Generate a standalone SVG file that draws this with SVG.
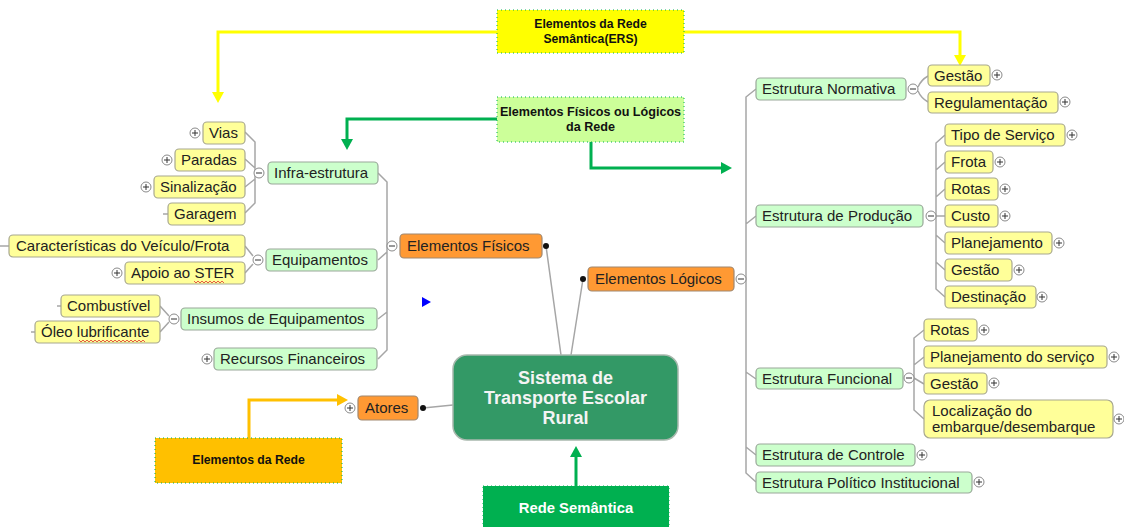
<svg xmlns="http://www.w3.org/2000/svg" width="1124" height="527" viewBox="0 0 1124 527">
<style>
text{font-family:"Liberation Sans",Arial,sans-serif}
.t{font-size:15px;fill:#222}
.y{fill:#FFFF99;stroke:#A8A890;stroke-width:1.2}
.g{fill:#CCFFCC;stroke:#99A899;stroke-width:1.2}
.o{fill:#FF9933;stroke:#A08870;stroke-width:1.2}
.c{fill:none;stroke:#A6A6A6;stroke-width:1.5}
.ic{fill:#fff;stroke:#8a8a8a;stroke-width:1}
.icl{stroke:#333;stroke-width:1}
.lab{font-size:12.2px;font-weight:bold;fill:#111;text-anchor:middle}
.dot{fill:#111}
.sq{fill:none;stroke:#e03030;stroke-width:0.8}
</style>
<defs>
<marker id="ay" markerUnits="userSpaceOnUse" markerWidth="12" markerHeight="12" refX="5" refY="6" orient="auto"><path d="M0,0 L11,6 L0,12 z" fill="#FFFF00"/></marker>
<marker id="ag" markerUnits="userSpaceOnUse" markerWidth="12" markerHeight="12" refX="5" refY="6" orient="auto"><path d="M0,0 L11,6 L0,12 z" fill="#00B050"/></marker>
<marker id="ao" markerUnits="userSpaceOnUse" markerWidth="12" markerHeight="12" refX="5" refY="6" orient="auto"><path d="M0,0 L11,6 L0,12 z" fill="#FFC000"/></marker>
<g id="plus"><circle r="5" class="ic"/><path d="M-3,0 H3 M0,-3 V3" class="icl"/></g>
<g id="minus"><circle r="5" class="ic"/><path d="M-3,0 H3" class="icl"/></g>
</defs>
<rect width="1124" height="527" fill="#fff"/>

<g id="connectors">
<path class="c" d="M546,246 L561,355 M583,279 L571,355 M423,408 L453,405"/>
<path class="c" d="M378,173 L387,182 L387,350 L378,359 M378,260 L387,252 M378,319 L387,312"/>
<path class="c" d="M245,132 L255,142 L255,203 L245,213 M245,159 L255,168 M245,187 L255,179 M163,214 H168"/>
<path class="c" d="M245,246 L253,256 M245,273 L253,264 M0,246 H9"/>
<path class="c" d="M160,306 L169,316 M160,332 L169,322 M57,306 H61 M31,332 H35"/>
<path class="c" d="M756,89 L746,97 L746,473 L756,482 M746,224 L756,216 M746,372 L756,379 M746,447 L756,455"/>
<path class="c" d="M918,87 Q921,80 928,76 M918,91 Q921,98 928,102"/>
<path class="c" d="M945,135 L936,143 L936,289 L945,297 M936,170 L945,162 M936,197 L945,189 M936,216 H945 M936,235 L945,243 M936,262 L945,270"/>
<path class="c" d="M924,330 L914,338 L914,410 L924,419 M914,365 L924,357 M914,378 L924,384"/>
<circle class="dot" cx="546" cy="246" r="3"/>
<circle class="dot" cx="583" cy="279" r="3"/>
<circle class="dot" cx="423" cy="408" r="3"/>
<path d="M497,32 H218 V97" fill="none" stroke="#FFFF00" stroke-width="3" marker-end="url(#ay)"/>
<path d="M684,32 H960 V60" fill="none" stroke="#FFFF00" stroke-width="3" marker-end="url(#ay)"/>
<path d="M497,119 H347 V144" fill="none" stroke="#00B050" stroke-width="3" marker-end="url(#ag)"/>
<path d="M591,142 V168 H726" fill="none" stroke="#00B050" stroke-width="3" marker-end="url(#ag)"/>
<path d="M249,438 V400 H342" fill="none" stroke="#FFC000" stroke-width="3" marker-end="url(#ao)"/>
<path d="M576,486 V452" fill="none" stroke="#00B050" stroke-width="3" marker-end="url(#ag)"/>
</g>

<polygon points="422,297 431,302 422,307" fill="#0000FF"/>

<g id="ers"><rect x="497" y="10" width="187" height="43" fill="#FFFF00" stroke="#00B050" stroke-dasharray="1,3"/><text class="lab" x="590.5" y="28">Elementos da Rede</text><text class="lab" x="590.5" y="43">Semântica(ERS)</text></g>
<g id="efl"><rect x="497" y="97" width="187" height="45" fill="#CCFF99" stroke="#00B050" stroke-dasharray="1,3"/><text class="lab" x="590.5" y="116" style="font-size:12.6px">Elementos Físicos ou Lógicos</text><text class="lab" x="590.5" y="131" style="font-size:12.6px">da Rede</text></g>
<g id="erede"><rect x="155" y="438" width="187" height="45" fill="#FFC000" stroke="#00B050" stroke-dasharray="1,3"/><text class="lab" x="248.5" y="464">Elementos da Rede</text></g>
<g id="rsem"><rect x="483" y="486" width="186" height="45" fill="#00B050" stroke="#00B050" stroke-dasharray="1,3"/><text class="lab" x="576" y="513" style="fill:#fff;font-size:14.8px">Rede Semântica</text></g>

<g id="central"><rect x="453" y="355" width="225" height="85" rx="14" fill="#339966" stroke="#a8b8ad" stroke-width="1.5"/>
<text x="565.5" y="384" text-anchor="middle" font-size="18" font-weight="bold" fill="#f4f4f4">Sistema de</text>
<text x="565.5" y="404" text-anchor="middle" font-size="18" font-weight="bold" fill="#f4f4f4">Transporte Escolar</text>
<text x="565.5" y="424" text-anchor="middle" font-size="18" font-weight="bold" fill="#f4f4f4">Rural</text></g>

<g id="fisicos"><rect class="o" x="400" y="234" width="142" height="24" rx="4"/><text class="t" x="407" y="251">Elementos Físicos</text><use href="#minus" x="392" y="246"/></g>
<g id="logicos"><rect class="o" x="588" y="267" width="146" height="24" rx="4"/><text class="t" x="595" y="284">Elementos Lógicos</text><use href="#minus" x="741" y="279"/></g>
<g id="atores"><rect class="o" x="358" y="396" width="60" height="24" rx="4"/><text class="t" x="365" y="413">Atores</text><use href="#plus" x="350" y="408"/></g>

<g id="vias"><rect class="y" x="203" y="122" width="42" height="22" rx="4"/><text class="t" x="209" y="138">Vias</text><use href="#plus" x="195" y="133"/></g>
<g id="paradas"><rect class="y" x="175" y="149" width="70" height="22" rx="4"/><text class="t" x="181" y="165">Paradas</text><use href="#plus" x="167" y="160"/></g>
<g id="sinalizacao"><rect class="y" x="154" y="176" width="91" height="22" rx="4"/><text class="t" x="160" y="192">Sinalização</text><use href="#plus" x="146" y="187"/></g>
<g id="garagem"><rect class="y" x="168" y="203" width="77" height="22" rx="4"/><text class="t" x="174" y="219">Garagem</text></g>
<g id="infra"><rect class="g" x="268" y="162" width="110" height="22" rx="4"/><text class="t" x="274" y="178">Infra-estrutura</text><use href="#minus" x="259" y="173"/></g>
<g id="caract"><rect class="y" x="9" y="235" width="236" height="22" rx="4"/><text class="t" x="16" y="251">Características do Veículo/Frota</text></g>
<g id="apoio"><rect class="y" x="125" y="262" width="120" height="22" rx="4"/><text class="t" x="131" y="278">Apoio ao STER</text><path class="sq" d="M194,281 l2,2 l2,-2 l2,2 l2,-2 l2,2 l2,-2 l2,2 l2,-2 l2,2 l2,-2 l2,2 l2,-2 l2,2 l2,-2 l2,2"/><use href="#plus" x="117" y="273"/></g>
<g id="equip"><rect class="g" x="266" y="249" width="111" height="22" rx="4"/><text class="t" x="272" y="265">Equipamentos</text><use href="#minus" x="258" y="260"/></g>
<g id="comb"><rect class="y" x="61" y="295" width="99" height="22" rx="4"/><text class="t" x="67" y="311">Combustível</text></g>
<g id="oleo"><rect class="y" x="35" y="321" width="125" height="22" rx="4"/><text class="t" x="41" y="337">Óleo lubrificante</text><path class="sq" d="M79,340 l2,2 l2,-2 l2,2 l2,-2 l2,2 l2,-2 l2,2 l2,-2 l2,2 l2,-2 l2,2 l2,-2 l2,2 l2,-2 l2,2 l2,-2 l2,2 l2,-2 l2,2 l2,-2 l2,2 l2,-2 l2,2 l2,-2 l2,2 l2,-2 l2,2 l2,-2 l2,2 l2,-2 l2,2 l2,-2 l2,2"/></g>
<g id="insumos"><rect class="g" x="181" y="308" width="196" height="22" rx="4"/><text class="t" x="187" y="324">Insumos de Equipamentos</text><use href="#minus" x="174" y="319"/></g>
<g id="recursos"><rect class="g" x="214" y="348" width="163" height="22" rx="4"/><text class="t" x="220" y="364">Recursos Financeiros</text><use href="#plus" x="207" y="359"/></g>

<g id="normativa"><rect class="g" x="756" y="78" width="150" height="22" rx="4"/><text class="t" x="762" y="94">Estrutura Normativa</text><use href="#minus" x="913" y="89"/></g>
<g id="gestao1"><rect class="y" x="928" y="65" width="62" height="21" rx="4"/><text class="t" x="934" y="81">Gestão</text><use href="#plus" x="997" y="75"/></g>
<g id="regul"><rect class="y" x="928" y="92" width="130" height="21" rx="4"/><text class="t" x="934" y="108">Regulamentação</text><use href="#plus" x="1065" y="102"/></g>
<g id="producao"><rect class="g" x="756" y="205" width="167" height="22" rx="4"/><text class="t" x="762" y="221">Estrutura de Produção</text><use href="#minus" x="931" y="216"/></g>
<g id="tipo"><rect class="y" x="945" y="124" width="120" height="22" rx="4"/><text class="t" x="951" y="140">Tipo de Serviço</text><use href="#plus" x="1072" y="135"/></g>
<g id="frota"><rect class="y" x="945" y="151" width="48" height="22" rx="4"/><text class="t" x="951" y="167">Frota</text><use href="#plus" x="1000" y="162"/></g>
<g id="rotas1"><rect class="y" x="945" y="178" width="53" height="22" rx="4"/><text class="t" x="951" y="194">Rotas</text><use href="#plus" x="1005" y="189"/></g>
<g id="custo"><rect class="y" x="945" y="205" width="53" height="22" rx="4"/><text class="t" x="951" y="221">Custo</text><use href="#plus" x="1005" y="216"/></g>
<g id="planej"><rect class="y" x="945" y="232" width="107" height="22" rx="4"/><text class="t" x="951" y="248">Planejamento</text><use href="#plus" x="1059" y="243"/></g>
<g id="gestao2"><rect class="y" x="945" y="259" width="67" height="22" rx="4"/><text class="t" x="951" y="275">Gestão</text><use href="#plus" x="1019" y="270"/></g>
<g id="destin"><rect class="y" x="945" y="286" width="91" height="22" rx="4"/><text class="t" x="951" y="302">Destinação</text><use href="#plus" x="1042" y="297"/></g>
<g id="funcional"><rect class="g" x="756" y="368" width="147" height="21" rx="4"/><text class="t" x="762" y="384">Estrutura Funcional</text><use href="#minus" x="909" y="378"/></g>
<g id="rotas2"><rect class="y" x="924" y="319" width="53" height="22" rx="4"/><text class="t" x="930" y="335">Rotas</text><use href="#plus" x="984" y="330"/></g>
<g id="planserv"><rect class="y" x="924" y="346" width="183" height="22" rx="4"/><text class="t" x="930" y="362">Planejamento do serviço</text><use href="#plus" x="1114" y="357"/></g>
<g id="gestao3"><rect class="y" x="924" y="373" width="63" height="21" rx="4"/><text class="t" x="930" y="389">Gestão</text><use href="#plus" x="994" y="383"/></g>
<g id="local"><rect class="y" x="924" y="400" width="189" height="38" rx="6"/><text class="t" x="932" y="416">Localização do</text><text class="t" x="932" y="432">embarque/desembarque</text><use href="#plus" x="1119" y="419"/></g>
<g id="controle"><rect class="g" x="756" y="444" width="159" height="22" rx="4"/><text class="t" x="762" y="460">Estrutura de Controle</text><use href="#plus" x="922" y="455"/></g>
<g id="politico"><rect class="g" x="756" y="472" width="216" height="21" rx="4"/><text class="t" x="762" y="488">Estrutura Político Institucional</text><use href="#plus" x="979" y="482"/></g>
</svg>
